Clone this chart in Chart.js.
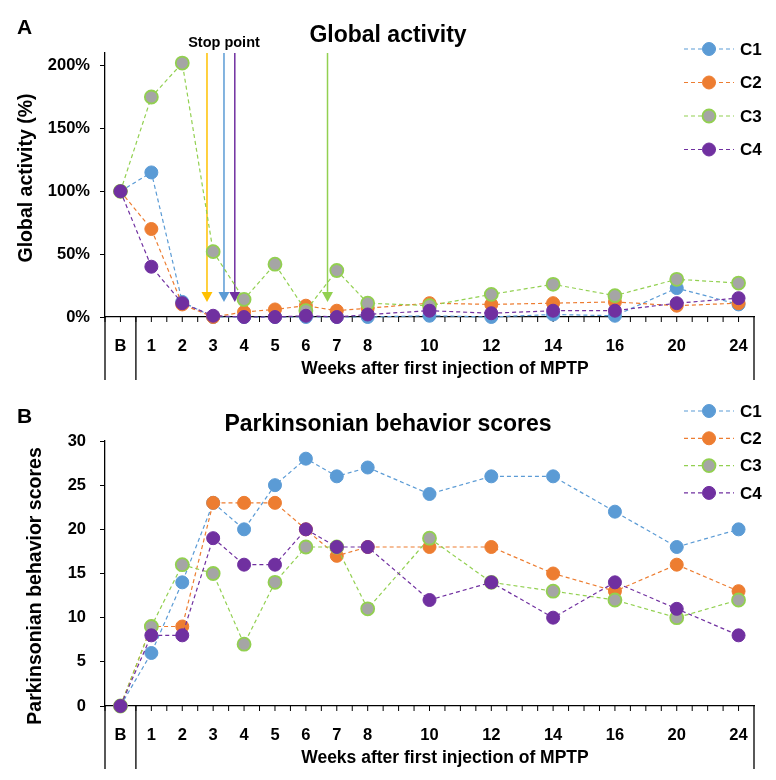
<!DOCTYPE html>
<html>
<head>
<meta charset="utf-8">
<script src="https://cdn.jsdelivr.net/npm/chart.js@4"></script>
<style>
  body { margin: 0; background: #fff; }
  .panel { width: 776px; height: 390px; }
</style>
</head>
<body>
<div class="panel"><canvas id="chartA" width="776" height="390"></canvas></div>
<div class="panel"><canvas id="chartB" width="776" height="390"></canvas></div>
<script>
// x slots, blank slots keep the spacing of the original axis
const weeks = ['B','1','2','3','4','5','6','7','8','','10','','12','','14','','16','','20','','24'];
const seriesNames = ['C1', 'C2', 'C3', 'C4'];

// A: global activity (%)
const activityC1 = [100,115,12,0,0,0,0,0,0,null,1,null,0,null,2,null,1,null,23,null,10];
const activityC2 = [100,70,10,0,4,6,9,5,7,null,11,null,10,null,11,null,12,null,9,null,11];
const activityC3 = [100,175,202,52,14,42,5,37,11,null,9,null,18,null,26,null,17,null,30,null,27];
const activityC4 = [100,40,11,1,0,0,1,0,2,null,5,null,3,null,5,null,5,null,11,null,15];

// B: parkinsonian behavior scores
const scoreC1 = [0,6,14,23,20,25,28,26,27,null,24,null,26,null,26,null,22,null,18,null,20];
const scoreC2 = [0,9,9,23,23,23,20,17,18,null,18,null,18,null,15,null,13,null,16,null,13];
const scoreC3 = [0,9,16,15,7,14,18,18,11,null,19,null,14,null,13,null,12,null,10,null,12];
const scoreC4 = [0,8,8,19,16,16,20,18,18,null,12,null,14,null,10,null,14,null,11,null,8];

// stop points (in week slots) and where the arrow heads end (%)
const stopWeeks = [2.8, 3.35, 3.7, 6.7];
const stopColors = ['#FFC000', '#5B9BD5', '#7030A0', '#92D050'];
const stopTip = 12;

const lineColors = ['#5B9BD5', '#ED7D31', '#92D050', '#7030A0'];
const fillColors = ['#5B9BD5', '#ED7D31', '#A5A5A5', '#7030A0'];

const FONT = "Arial, 'Liberation Sans', sans-serif";
const xTitle = 'Weeks after first injection of MPTP';

function makeDatasets(values) {
  return seriesNames.map((name, i) => ({
    label: name,
    data: values[i],
    borderColor: lineColors[i],
    backgroundColor: fillColors[i],
    pointBackgroundColor: fillColors[i],
    pointBorderColor: lineColors[i],
    pointBorderWidth: i === 2 ? 1.8 : 1,
    pointRadius: 6.5,
    borderWidth: 1.2,
    borderDash: [4, 3],
    spanGaps: true,
    tension: 0,
    fill: false,
    clip: false,
    order: seriesNames.length - i
  }));
}

const decor = {
  id: 'decor',
  beforeDatasetsDraw(chart, args, o) {
    const {ctx, chartArea: a, scales: {x, y}} = chart;
    const half = (x.getPixelForValue(1) - x.getPixelForValue(0)) / 2;
    ctx.save();
    ctx.strokeStyle = '#000';
    ctx.lineWidth = 1;
    ctx.beginPath();
    for (let i = 0; i < weeks.length; i++) {
      const cx = x.getPixelForValue(i);
      [cx - half, cx].forEach(px => {
        ctx.moveTo(px, a.bottom);
        ctx.lineTo(px, a.bottom + 5);
      });
    }
    ctx.stroke();

    ctx.lineWidth = 1.3;
    ctx.beginPath();
    [a.left, x.getPixelForValue(0.5), a.right].forEach(px => {
      ctx.moveTo(px, a.bottom);
      ctx.lineTo(px, a.bottom + 63);
    });
    ctx.stroke();

    if (o.stops) {
      const tipY = y.getPixelForValue(stopTip);
      stopWeeks.forEach((w, i) => {
        const px = x.getPixelForValue(w);
        ctx.strokeStyle = stopColors[i];
        ctx.fillStyle = stopColors[i];
        ctx.lineWidth = 1.5;
        ctx.beginPath();
        ctx.moveTo(px, a.top);
        ctx.lineTo(px, tipY - 10);
        ctx.stroke();
        ctx.beginPath();
        ctx.moveTo(px - 5.5, tipY - 10);
        ctx.lineTo(px + 5.5, tipY - 10);
        ctx.lineTo(px, tipY);
        ctx.closePath();
        ctx.fill();
      });
      ctx.fillStyle = '#000';
      ctx.font = 'bold 14.5px ' + FONT;
      ctx.textAlign = 'center';
      ctx.fillText('Stop point', x.getPixelForValue(stopWeeks[1]), a.top - 6);
    }
    ctx.restore();
  },
  afterDraw(chart, args, o) {
    const {ctx, chartArea: a, scales: {x}} = chart;
    ctx.save();
    ctx.fillStyle = '#000';
    ctx.textBaseline = 'alphabetic';

    ctx.font = 'bold 21px ' + FONT;
    ctx.textAlign = 'left';
    ctx.fillText(o.letter, 17, o.letterBase);

    ctx.font = 'bold 23px ' + FONT;
    ctx.textAlign = 'center';
    ctx.fillText(o.title, chart.width / 2, o.titleBase);

    ctx.save();
    ctx.translate(o.yTitleX, o.yTitleY);
    ctx.rotate(-Math.PI / 2);
    ctx.font = 'bold 19.5px ' + FONT;
    ctx.fillText(o.yTitle, 0, 0);
    ctx.restore();

    const sep = x.getPixelForValue(0.5);
    ctx.font = 'bold 17.5px ' + FONT;
    ctx.textBaseline = 'middle';
    ctx.fillText(xTitle, (sep + a.right) / 2, a.bottom + 52);

    // legend
    chart.data.datasets.forEach((ds, i) => {
      const yy = o.legendTop + i * o.legendStep;
      ctx.strokeStyle = ds.borderColor;
      ctx.lineWidth = 1.2;
      ctx.setLineDash([4, 3]);
      ctx.beginPath();
      ctx.moveTo(684, yy);
      ctx.lineTo(734, yy);
      ctx.stroke();
      ctx.setLineDash([]);
      ctx.beginPath();
      ctx.arc(709, yy, 6.5, 0, Math.PI * 2);
      ctx.fillStyle = ds.pointBackgroundColor;
      ctx.fill();
      ctx.lineWidth = ds.pointBorderWidth;
      ctx.strokeStyle = ds.pointBorderColor;
      ctx.stroke();
      ctx.fillStyle = '#000';
      ctx.font = 'bold 17px ' + FONT;
      ctx.textAlign = 'left';
      ctx.fillText(ds.label, 740, yy + 1);
    });
    ctx.restore();
  }
};

function makeChart(id, values, cfg) {
  return new Chart(document.getElementById(id), {
    type: 'line',
    data: { labels: weeks, datasets: makeDatasets(values) },
    options: {
      responsive: false,
      animation: false,
      events: [],
      layout: { padding: { left: 0, right: 22, top: cfg.top, bottom: 0 } },
      plugins: {
        legend: { display: false },
        tooltip: { enabled: false },
        decor: cfg.decor
      },
      scales: {
        x: {
          type: 'category',
          offset: true,
          grid: { display: false },
          border: { color: '#000', width: 1.3 },
          ticks: {
            autoSkip: false, maxRotation: 0, padding: 12, color: '#000',
            font: { family: FONT, size: 16.5, weight: 'bold' }
          },
          afterFit: s => { s.height = cfg.xHeight; }
        },
        y: {
          min: 0,
          max: cfg.max,
          grid: { drawOnChartArea: false, tickLength: 5, color: '#000', lineWidth: 1 },
          border: { color: '#000', width: 1.3 },
          ticks: {
            stepSize: cfg.step, includeBounds: false, padding: cfg.pad, color: '#000',
            font: { family: FONT, size: 16.5, weight: 'bold' },
            callback: cfg.fmt
          },
          afterFit: s => { s.width = 105; }
        }
      }
    },
    plugins: [decor]
  });
}

makeChart('chartA', [activityC1, activityC2, activityC3, activityC4], {
  top: 53, xHeight: 73, max: 210, step: 50, pad: 10,
  fmt: v => v + '%',
  decor: {
    letter: 'A', letterBase: 34, title: 'Global activity', titleBase: 41.5,
    yTitle: 'Global activity (%)', yTitleX: 32, yTitleY: 178,
    legendTop: 49, legendStep: 33.5, stops: true
  }
});

makeChart('chartB', [scoreC1, scoreC2, scoreC3, scoreC4], {
  top: 51, xHeight: 74, max: 30, step: 5, pad: 14,
  fmt: v => v,
  decor: {
    letter: 'B', letterBase: 32.5, title: 'Parkinsonian behavior scores', titleBase: 40.5,
    yTitle: 'Parkinsonian behavior scores', yTitleX: 40.5, yTitleY: 196,
    legendTop: 21, legendStep: 27.3, stops: false
  }
});
</script>
</body>
</html>
